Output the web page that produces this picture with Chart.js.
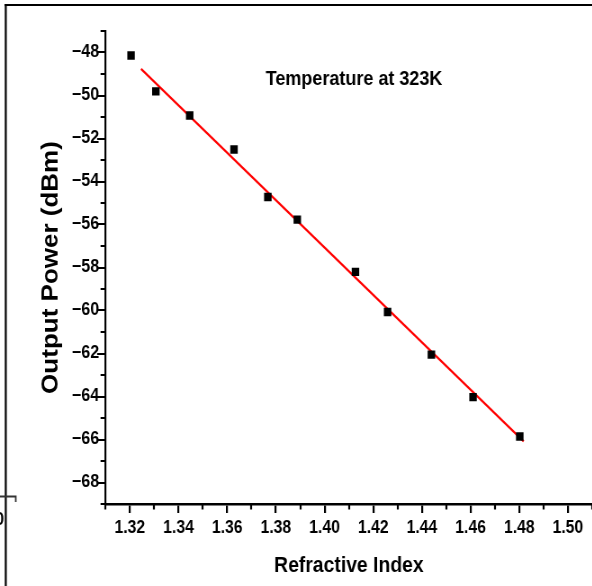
<!DOCTYPE html>
<html>
<head>
<meta charset="utf-8">
<script src="https://cdn.jsdelivr.net/npm/chart.js@4/dist/chart.umd.min.js"></script>
<style>
  html, body { margin: 0; padding: 0; background: #fff; overflow: hidden; width: 592px; height: 586px; }
  #wrap { position: absolute; left: 0; top: 0; width: 664px; height: 586px; transform: scaleX(0.9); transform-origin: 0 0; }
</style>
</head>
<body>
<div id="wrap"><canvas id="chart"></canvas></div>
<script>
// Measured output power versus refractive index at 323 K
const refractiveIndex = [1.3205, 1.3307, 1.3446, 1.3628, 1.3767, 1.3888, 1.4127, 1.4259, 1.4439, 1.4610, 1.4802];
const outputPower     = [-48.14, -49.81, -50.93, -52.51, -54.72, -55.77, -58.20, -60.07, -62.05, -64.03, -65.86];

// Linear fit endpoints
const fitIndex = [1.3246, 1.4818];
const fitPower = [-48.76, -66.09];

// Axis ticks
const xMajorTicks = [1.32, 1.34, 1.36, 1.38, 1.40, 1.42, 1.44, 1.46, 1.48, 1.50];
const xMinorTicks = [1.31, 1.33, 1.35, 1.37, 1.39, 1.41, 1.43, 1.45, 1.47, 1.49, 1.51];
const yMajorTicks = [-68, -66, -64, -62, -60, -58, -56, -54, -52, -50, -48];
const yMinorTicks = [-69, -67, -65, -63, -61, -59, -57, -55, -53, -51, -49, -47];

const annotationText = 'Temperature at 323K';
const FONT = "'Liberation Sans', Arial, sans-serif";

const decorations = {
  id: 'decorations',
  afterDraw(chart) {
    const ctx = chart.ctx;
    const xs = chart.scales.x, ys = chart.scales.y;
    const area = chart.chartArea;
    ctx.save();
    ctx.strokeStyle = '#000';
    // minor ticks
    ctx.lineWidth = 2.2;
    xMinorTicks.forEach(v => {
      const px = Math.round(xs.getPixelForValue(v));
      ctx.beginPath(); ctx.moveTo(px, area.bottom); ctx.lineTo(px, area.bottom + 5.5); ctx.stroke();
    });
    ctx.lineWidth = 2;
    yMinorTicks.forEach(v => {
      const py = Math.round(ys.getPixelForValue(v));
      ctx.beginPath(); ctx.moveTo(area.left, py); ctx.lineTo(area.left - 5.5, py); ctx.stroke();
    });
    // annotation
    ctx.fillStyle = '#000';
    ctx.font = 'bold 20px ' + FONT;
    ctx.textAlign = 'left';
    ctx.textBaseline = 'alphabetic';
    ctx.fillText(annotationText, xs.getPixelForValue(1.3758), ys.getPixelForValue(-49.49));
    // page frame
    ctx.lineWidth = 2;
    ctx.beginPath(); ctx.moveTo(5, 5); ctx.lineTo(chart.width, 5); ctx.stroke();
    ctx.lineWidth = 2.2;
    ctx.beginPath(); ctx.moveTo(6.4, 4); ctx.lineTo(6.4, chart.height); ctx.stroke();
    // neighbouring panel edge
    ctx.strokeStyle = '#333';
    ctx.lineWidth = 1.8;
    ctx.beginPath(); ctx.moveTo(0, 496.5); ctx.lineTo(17.5, 496.5); ctx.lineTo(17.5, 502); ctx.stroke();
    ctx.font = 'bold 18px ' + FONT;
    ctx.textAlign = 'right';
    ctx.fillText('0', 4.6, 525);
    ctx.restore();
  }
};

new Chart(document.getElementById('chart'), {
  type: 'scatter',
  data: {
    datasets: [
      {
        data: refractiveIndex.map((x, i) => ({ x, y: outputPower[i] })),
        pointStyle: 'rect',
        pointRadius: 5.9,
        pointHoverRadius: 5.9,
        pointBackgroundColor: '#000',
        pointBorderWidth: 0,
        showLine: false
      },
      {
        data: fitIndex.map((x, i) => ({ x, y: fitPower[i] })),
        showLine: true,
        borderColor: '#ff0000',
        borderWidth: 2.2,
        pointRadius: 0,
        pointHoverRadius: 0
      }
    ]
  },
  options: {
    responsive: true,
    maintainAspectRatio: false,
    animation: false,
    events: [],
    layout: { padding: { top: 31, right: 2, bottom: 0, left: 0 } },
    plugins: { legend: { display: false }, tooltip: { enabled: false } },
    scales: {
      x: {
        type: 'linear',
        min: 1.31,
        max: 1.51,
        afterBuildTicks: s => { s.ticks = xMajorTicks.map(v => ({ value: v })); },
        afterFit: s => { s.height = 82; },
        border: { display: true, color: '#000', width: 2.5 },
        grid: { display: true, drawOnChartArea: false, drawTicks: true, tickLength: 9, color: '#000', lineWidth: 2.2 },
        ticks: {
          color: '#000',
          padding: 5,
          maxRotation: 0,
          autoSkip: false,
          font: { family: FONT, weight: 'bold', size: 17.5 },
          callback: v => Number(v).toFixed(2)
        },
        title: {
          display: true,
          text: 'Refractive Index',
          color: '#000',
          font: { family: FONT, weight: 'bold', size: 21.5 },
          padding: { top: 0, bottom: 7 }
        }
      },
      y: {
        type: 'linear',
        min: -69,
        max: -47,
        afterBuildTicks: s => { s.ticks = yMajorTicks.map(v => ({ value: v })); },
        afterFit: s => { s.width = 117.2; },
        border: { display: true, color: '#000', width: 2.2 },
        grid: { display: true, drawOnChartArea: false, drawTicks: true, tickLength: 9.3, color: '#000', lineWidth: 2 },
        ticks: {
          color: '#000',
          padding: -2.4,
          autoSkip: false,
          font: { family: FONT, weight: 'bold', size: 18 },
          callback: v => (v < 0 ? '\u2212' + Math.abs(v) : String(v))
        },
        title: {
          display: true,
          text: 'Output Power (dBm)',
          color: '#000',
          font: { family: FONT, weight: 'bold', size: 26 },
          padding: { top: 41, bottom: 0 }
        }
      }
    }
  },
  plugins: [decorations]
});
</script>
</body>
</html>
